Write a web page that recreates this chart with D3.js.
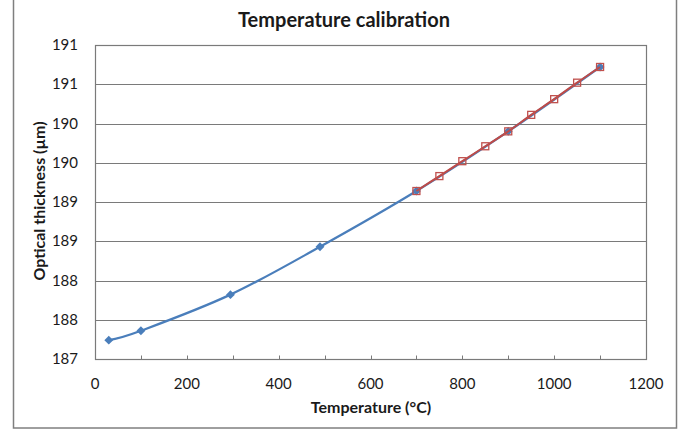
<!DOCTYPE html>
<html>
<head>
<meta charset="utf-8">
<script src="https://cdn.jsdelivr.net/npm/d3@7"></script>
<style>
  body { margin: 0; background: #fff; }
  text { font-family: Lato, "Open Sans", sans-serif; fill: #1a1a1a; }
</style>
</head>
<body>
<div id="chart"></div>
<script>
// data
var calibTemp = [30, 100, 295, 490, 700, 900, 1100];
var calibThick = [187.24, 187.36, 187.82, 188.43, 189.14, 189.90, 190.72];
var fitTemp = [700, 750, 800, 850, 900, 950, 1000, 1050, 1100];
var fitThick = [189.14, 189.33, 189.52, 189.71, 189.90, 190.11, 190.31, 190.52, 190.72];
var xTicks = [0, 200, 400, 600, 800, 1000, 1200];
var xMinor = [100, 300, 500, 700, 900, 1100];
var yTicks = [187, 187.5, 188, 188.5, 189, 189.5, 190, 190.5, 191];

var width = 690, height = 430;
var margin = {top: 45, right: 44, bottom: 71, left: 95};

var svg = d3.select("#chart").append("svg")
    .attr("width", width)
    .attr("height", height);

// outer chart frame
svg.append("rect")
    .attr("x", 13.5).attr("y", -2)
    .attr("width", 663).attr("height", 430)
    .attr("fill", "#fff")
    .attr("stroke", "#7f7f7f")
    .attr("stroke-width", 1.5);

var x = d3.scaleLinear().domain([0, 1200]).range([margin.left, width - margin.right]);
var y = d3.scaleLinear().domain([187, 191]).range([height - margin.bottom, margin.top]);

// horizontal grid lines
svg.append("g").selectAll("line")
    .data(yTicks)
    .enter().append("line")
    .attr("x1", x(0)).attr("x2", x(1200))
    .attr("y1", function (d) { return Math.round(y(d)) + 0.5; })
    .attr("y2", function (d) { return Math.round(y(d)) + 0.5; })
    .attr("stroke", "#7a7a7a")
    .attr("stroke-width", 1.2);

// plot frame
svg.append("rect")
    .attr("x", x(0) + 0.5).attr("y", y(191) + 0.5)
    .attr("width", x(1200) - x(0)).attr("height", y(187) - y(191))
    .attr("fill", "none")
    .attr("stroke", "#7a7a7a")
    .attr("stroke-width", 1.2);

// x axis: inside ticks every 100, labels every 200
var axisY = Math.round(y(187)) + 0.5;
svg.append("g").selectAll("line")
    .data(xTicks.concat(xMinor))
    .enter().append("line")
    .attr("x1", function (d) { return Math.round(x(d)) + 0.5; })
    .attr("x2", function (d) { return Math.round(x(d)) + 0.5; })
    .attr("y1", axisY).attr("y2", axisY - 4)
    .attr("stroke", "#7a7a7a");

svg.append("g").selectAll("text")
    .data(xTicks)
    .enter().append("text")
    .attr("x", function (d) { return x(d); })
    .attr("y", axisY + 29)
    .attr("text-anchor", "middle")
    .style("font-size", "15px")
    .text(function (d) { return d; });

// y labels, rounded to whole numbers like the original
svg.append("g").selectAll("text")
    .data(yTicks)
    .enter().append("text")
    .attr("x", 78)
    .attr("y", function (d) { return y(d) + 5; })
    .attr("text-anchor", "end")
    .style("font-size", "15px")
    .text(function (d) { return d3.format(".0f")(d + 1e-9); });

// titles
svg.append("text")
    .attr("x", 344).attr("y", 27)
    .attr("text-anchor", "middle")
    .style("font-size", "20px").style("font-weight", "bold")
    .text("Temperature calibration");

svg.append("text")
    .attr("x", 371).attr("y", 413)
    .attr("text-anchor", "middle")
    .style("font-size", "16px").style("font-weight", "bold")
    .text("Temperature (°C)");

svg.append("text")
    .attr("transform", "translate(45,201) rotate(-90)")
    .attr("text-anchor", "middle")
    .style("font-size", "16px").style("font-weight", "bold")
    .text("Optical thickness (µm)");

// smoothed lines
var line = d3.line()
    .x(function (d) { return x(d[0]); })
    .y(function (d) { return y(d[1]); })
    .curve(d3.curveCatmullRom.alpha(0));

var calib = d3.zip(calibTemp, calibThick);
var fit = d3.zip(fitTemp, fitThick);

svg.append("path")
    .attr("d", line(calib))
    .attr("fill", "none")
    .attr("stroke", "#4a7ebb")
    .attr("stroke-width", 2.25);

svg.append("g").selectAll("path")
    .data(calib)
    .enter().append("path")
    .attr("d", d3.symbol().type(d3.symbolDiamond2).size(50))
    .attr("transform", function (d) { return "translate(" + x(d[0]) + "," + y(d[1]) + ")"; })
    .attr("fill", "#4a7ebb");

svg.append("path")
    .attr("d", line(fit))
    .attr("fill", "none")
    .attr("stroke", "#be4b48")
    .attr("stroke-width", 2);

svg.append("g").selectAll("rect")
    .data(fit)
    .enter().append("rect")
    .attr("x", function (d) { return x(d[0]) - 3.5; })
    .attr("y", function (d) { return y(d[1]) - 3.5; })
    .attr("width", 7).attr("height", 7)
    .attr("fill", "none")
    .attr("stroke", "#c0504d")
    .attr("stroke-width", 1.3);
</script>
</body>
</html>
